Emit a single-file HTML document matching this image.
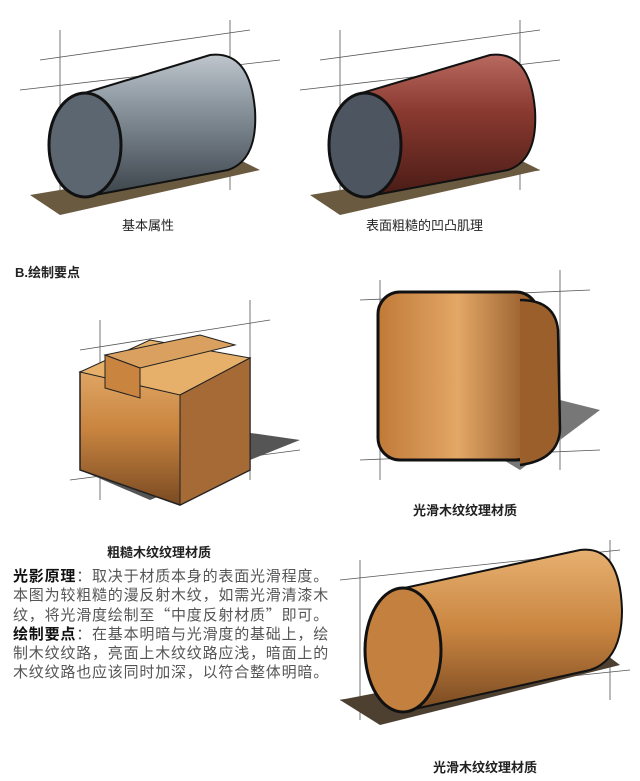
<!DOCTYPE html>
<html><head><meta charset="utf-8"><style>
body{margin:0;background:#fff;width:640px;height:781px;overflow:hidden;position:relative;font-family:"Liberation Sans","Noto Sans CJK SC",sans-serif}
.t{position:absolute;font-size:13px;color:#222;white-space:nowrap}
.p{position:absolute;left:13px;top:566px;font-size:15px;line-height:19.3px;color:#555;letter-spacing:0.8px;white-space:nowrap;font-family:"Noto Sans CJK SC",sans-serif}
.p b{color:#111}
</style></head><body>
<svg width="640" height="781" style="position:absolute;left:0;top:0">
<defs>
<linearGradient id="gray" x1="0" y1="0" x2="0" y2="1"><stop offset="0" stop-color="#bfc6cc"/><stop offset=".35" stop-color="#8c97a0"/><stop offset="1" stop-color="#3d454c"/></linearGradient>
<linearGradient id="red" x1="0" y1="0" x2="0" y2="1"><stop offset="0" stop-color="#b96a60"/><stop offset=".4" stop-color="#8a3a30"/><stop offset="1" stop-color="#4a1c16"/></linearGradient>
<linearGradient id="wood" x1="0" y1="0" x2="0" y2="1"><stop offset="0" stop-color="#e7b070"/><stop offset=".5" stop-color="#c98540"/><stop offset="1" stop-color="#7a4a22"/></linearGradient>
<linearGradient id="wood2" x1="0" y1="0" x2="1" y2="0"><stop offset="0" stop-color="#c07a38"/><stop offset=".5" stop-color="#e3a766"/><stop offset="1" stop-color="#8d5526"/></linearGradient>
</defs>
<g stroke="#555" stroke-width="0.8" fill="none">
<path d="M40 60 L250 30 M40 200 L250 170 M60 30 L60 210 M230 20 L230 190 M20 90 L280 60"/>
<path d="M320 60 L540 30 M320 200 L540 170 M340 30 L340 210 M520 20 L520 190 M300 90 L560 60"/>
<path d="M80 350 L270 320 M70 480 L300 450 M100 320 L100 500 M250 300 L250 480"/>
<path d="M360 300 L590 290 M360 460 L600 450 M380 280 L380 480 M560 270 L560 470"/>
<path d="M340 580 L620 550 M340 700 L630 670 M360 560 L360 720 M610 540 L610 700"/>
</g>
<polygon points="30,195 240,160 260,170 60,215" fill="#6a5a40"/>
<polygon points="310,195 520,160 540,170 340,215" fill="#6a5a40"/>
<polygon points="80,470 230,430 300,440 150,500" fill="#555"/>
<polygon points="470,440 560,400 600,410 520,470" fill="#777"/>
<polygon points="340,700 600,650 620,665 380,725" fill="#4e4030"/>
<path d="M78 95 L210 55 Q250 50 255 110 Q258 160 228 170 L95 195 Z" fill="url(#gray)" stroke="#111" stroke-width="2"/>
<ellipse cx="85" cy="145" rx="36" ry="52" fill="#5b6670" stroke="#111" stroke-width="3"/>
<path d="M355 95 L490 55 Q530 50 535 110 Q538 160 508 170 L375 195 Z" fill="url(#red)" stroke="#111" stroke-width="2"/>
<ellipse cx="365" cy="145" rx="36" ry="52" fill="#4d5660" stroke="#111" stroke-width="3"/>
<polygon points="80,372 150,352 150,378 250,358 250,470 180,505 80,470" fill="url(#wood)" stroke="#222" stroke-width="1.5"/>
<polygon points="80,372 180,395 250,358 150,340" fill="#e6b06a" stroke="#222"/>
<polygon points="105,355 200,335 235,345 140,368" fill="#d9a060" stroke="#222"/>
<polygon points="105,355 140,368 140,398 105,388" fill="#c98540" stroke="#222"/>
<polygon points="180,395 250,358 250,470 180,505" fill="#a56a35" stroke="#222"/>
<rect x="378" y="292" width="160" height="168" rx="22" fill="url(#wood2)" stroke="#111" stroke-width="3"/>
<path d="M520 300 Q555 300 558 330 L560 430 Q558 460 520 465" fill="#9b5f2b" stroke="#111" stroke-width="2.5"/>
<path d="M395 590 L580 550 Q620 545 622 610 Q622 660 590 670 L410 710 Z" fill="url(#wood)" stroke="#111" stroke-width="2"/>
<ellipse cx="403" cy="650" rx="38" ry="62" fill="#c4803e" stroke="#111" stroke-width="3"/>
</svg>
<div class="t" style="left:122px;top:215px">基本属性</div>
<div class="t" style="left:366px;top:215px">表面粗糙的凹凸肌理</div>
<div class="t" style="left:15px;top:262px;font-weight:bold">B.绘制要点</div>
<div class="t" style="left:107px;top:542px;font-weight:bold">粗糙木纹纹理材质</div>
<div class="t" style="left:413px;top:500px;font-weight:bold">光滑木纹纹理材质</div>
<div class="t" style="left:433px;top:757px;font-weight:bold">光滑木纹纹理材质</div>
<div class="p"><b>光影原理</b>：取决于材质本身的表面光滑程度。<br>本图为较粗糙的漫反射木纹，如需光滑清漆木<br>纹，将光滑度绘制至“中度反射材质”即可。<br><b>绘制要点</b>：在基本明暗与光滑度的基础上，绘<br>制木纹纹路，亮面上木纹纹路应浅，暗面上的<br>木纹纹路也应该同时加深，以符合整体明暗。</div>
</body></html>
